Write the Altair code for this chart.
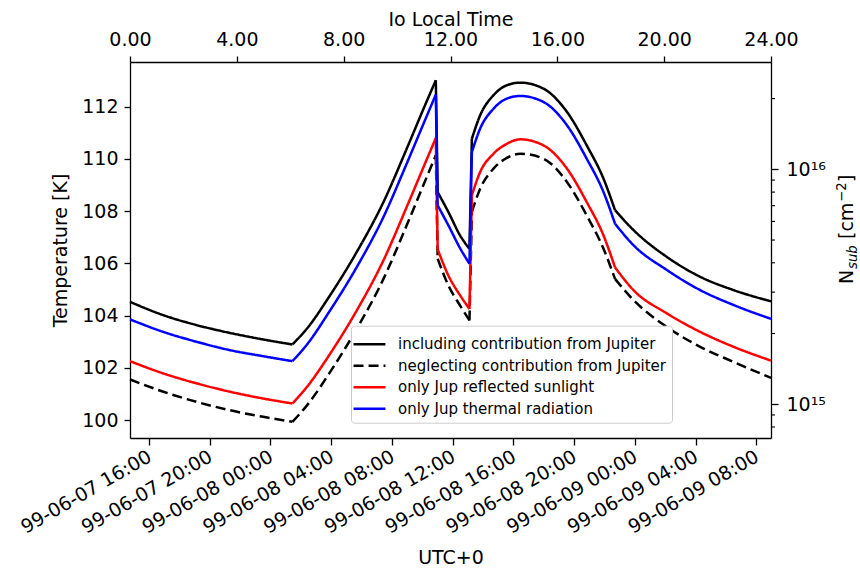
import altair as alt
import pandas as pd

# ---------------- data ----------------
# Io local time [h] of the sampled points
LT = [0.00, 1.25, 2.50, 3.75, 4.99, 6.08, 6.62, 7.49, 8.49, 9.49, 10.36, 10.99,
      11.45, 11.52, 11.92, 12.36, 12.71, 12.80, 13.11, 13.61, 14.11, 14.61, 15.48,
      16.36, 17.10, 17.73, 18.16, 18.85, 20.10, 21.35, 22.60, 24.00]
# surface temperature [K]
T_incl = [104.53, 104.02, 103.64, 103.34, 103.09, 102.90, 103.50, 104.78, 106.44, 108.35,
          110.39, 111.92, 113.01, 108.73, 107.97, 107.07, 106.56, 110.77, 111.67, 112.44,
          112.82, 112.92, 112.69, 111.80, 110.52, 109.24, 108.04, 107.28, 106.25, 105.49,
          104.98, 104.55]
T_negl = [101.56, 101.09, 100.70, 100.38, 100.13, 99.94, 100.56, 101.84, 103.50, 105.41,
          107.46, 109.01, 110.14, 106.18, 105.16, 104.39, 103.82, 107.97, 108.86, 109.63,
          110.04, 110.20, 110.01, 109.12, 107.84, 106.56, 105.41, 104.60, 103.57, 102.81,
          102.23, 101.62]
T_refl = [102.26, 101.79, 101.41, 101.09, 100.83, 100.64, 101.27, 102.54, 104.20, 106.12,
          108.16, 109.69, 110.80, 106.54, 105.54, 104.78, 104.26, 108.61, 109.50, 110.20,
          110.58, 110.75, 110.52, 109.63, 108.35, 107.07, 105.85, 104.98, 104.09, 103.38,
          102.81, 102.28]
T_therm = [103.86, 103.38, 103.00, 102.68, 102.45, 102.26, 102.89, 104.20, 105.86, 107.78,
           109.82, 111.35, 112.46, 108.22, 107.46, 106.58, 105.99, 110.26, 111.16, 111.92,
           112.31, 112.41, 112.18, 111.29, 110.01, 108.73, 107.52, 106.70, 105.75, 104.98,
           104.41, 103.88]

SERIES = ["including contribution from Jupiter",
          "neglecting contribution from Jupiter",
          "only Jup reflected sunlight",
          "only Jup thermal radiation"]
COLORS = ["black", "black", "red", "blue"]
DASHES = [[1, 0], [10, 5], [1, 0], [1, 0]]
# indices where the curves have sharp corners (sunrise, eclipse in/out, sunset)
SEG_BREAKS = [0, 5, 12, 13, 16, 17, 26, 31]

LT_TICKS = [0, 4, 8, 12, 16, 20, 24]
T_TICKS = [100, 102, 104, 106, 108, 110, 112]
T_DOMAIN = [99.32, 113.71]
UTC_DOMAIN = [14.75, 56.97]          # hours after 1999-06-07 00:00 UTC
UTC_TICKS = [16, 20, 24, 28, 32, 36, 40, 44, 48, 52, 56]
N_DOMAIN = [7.18e14, 2.864e16]
N_MAJOR = [1e15, 1e16]
N_MINOR = [8e14, 9e14, 2e15, 3e15, 4e15, 5e15, 6e15, 7e15, 8e15, 9e15, 2e16]

W, H = 641, 376
FONT = "DejaVu Sans"
FS = 19

rows = []
for name, temps in zip(SERIES, [T_incl, T_negl, T_refl, T_therm]):
    for k in range(len(SEG_BREAKS) - 1):
        a, b = SEG_BREAKS[k], SEG_BREAKS[k + 1]
        for i in range(a, b + 1):
            rows.append({"series": name, "key": f"{name}|{k}", "lt": LT[i],
                         "T": temps[i], "i": i})
df = pd.DataFrame(rows)

legend = alt.Legend(title=None, orient="none", legendX=221, legendY=263.7,
                    labelFont=FONT, labelFontSize=15, labelColor="black", labelLimit=0,
                    symbolType="M-1.45,0H1.45", symbolSize=484, symbolStrokeWidth=2.5,
                    labelOffset=16, padding=6, rowPadding=0.5,
                    strokeColor="#cccccc", fillColor="white", cornerRadius=3)

lines = alt.Chart(df).mark_line(strokeWidth=2.5, interpolate="monotone", strokeCap="butt").encode(
    x=alt.X("lt:Q", scale=alt.Scale(domain=[0, 24], nice=False, zero=False),
            axis=alt.Axis(orient="top", values=LT_TICKS, format=".2f", title="Io Local Time",
                          tickSize=6, labelPadding=7, titlePadding=1,
                          labelOverlap=False, labelFlush=False, labelBound=False)),
    y=alt.Y("T:Q", scale=alt.Scale(domain=T_DOMAIN, nice=False, zero=False),
            axis=alt.Axis(orient="left", values=T_TICKS, format="d", title="Temperature [K]",
                          tickSize=6, labelPadding=6, titlePadding=11,
                          labelOverlap=False, labelFlush=False, labelBound=False)),
    color=alt.Color("series:N", scale=alt.Scale(domain=SERIES, range=COLORS), legend=legend),
    strokeDash=alt.StrokeDash("series:N", scale=alt.Scale(domain=SERIES, range=DASHES), legend=legend),
    detail="key:N",
    order="i:Q",
)

utc_axis = alt.Chart(pd.DataFrame({"utc": UTC_DOMAIN})).mark_point(opacity=0).encode(
    x=alt.X("utc:Q", scale=alt.Scale(domain=UTC_DOMAIN, nice=False, zero=False),
            axis=alt.Axis(orient="bottom", values=UTC_TICKS,
                          labelExpr="utcFormat(utc(1999, 5, 7, datum.value), '%y-%m-%d %H:%M')",
                          labelAngle=330, labelAlign="right", labelBaseline="top",
                          labelOverlap=False, labelFlush=False, labelBound=False,
                          labelOffset=-4, tickSize=7, labelPadding=2,
                          title="UTC+0", titlePadding=12)),
)

n_axis = alt.Chart(pd.DataFrame({"n": N_MINOR})).mark_rule(color="black", strokeWidth=1.1).encode(
    y=alt.Y("n:Q", scale=alt.Scale(type="log", domain=N_DOMAIN, nice=False),
            axis=alt.Axis(orient="right", values=N_MAJOR,
                          labelExpr="datum.value > 3e15 ? '10\u00b9\u2076' : '10\u00b9\u2075'",
                          labelOverlap=False, labelFlush=False, labelBound=False,
                          tickSize=7, labelPadding=8, title=None)),
    x=alt.value(W), x2=alt.value(W + 4),
)

# right-hand axis title  N_sub [cm^-2]  (rotated, built from pieces)
one = pd.DataFrame({"a": [0]})
TX = 723
Y0 = 222
pieces = [
    ("N", Y0, TX, FS, "normal"),
    ("sub", Y0 - 15.0, TX + 3.8, 13.3, "italic"),
    ("[cm", Y0 - 45.0, TX, FS, "normal"),
    ("\u22122", Y0 - 82.0, TX - 7.5, 13.3, "normal"),
    ("]", Y0 - 102.0, TX, FS, "normal"),
]
title_layers = [
    alt.Chart(one).mark_text(text=t, angle=270, align="left", baseline="alphabetic",
                             font=FONT, fontSize=fs, fontStyle=st, color="black").encode(
        x=alt.value(px), y=alt.value(py))
    for t, py, px, fs, st in pieces
]

chart = alt.layer(lines, utc_axis, n_axis, *title_layers).resolve_scale(
    x="independent", y="independent"
).properties(
    width=W, height=H,
    padding={"left": 130, "top": 62, "right": 860 - 130 - W, "bottom": 568 - 62 - H},
    autosize=alt.AutoSizeParams(type="none"),
).configure(font=FONT).configure_axis(
    labelFont=FONT, labelFontSize=FS, titleFont=FONT, titleFontSize=FS,
    titleFontWeight="normal", labelColor="black", titleColor="black",
    domainColor="black", tickColor="black", domainWidth=1.3, tickWidth=1.3, grid=False,
).configure_view(stroke=None)

chart.save("out.html", embed_options={"renderer": "svg", "actions": False})
